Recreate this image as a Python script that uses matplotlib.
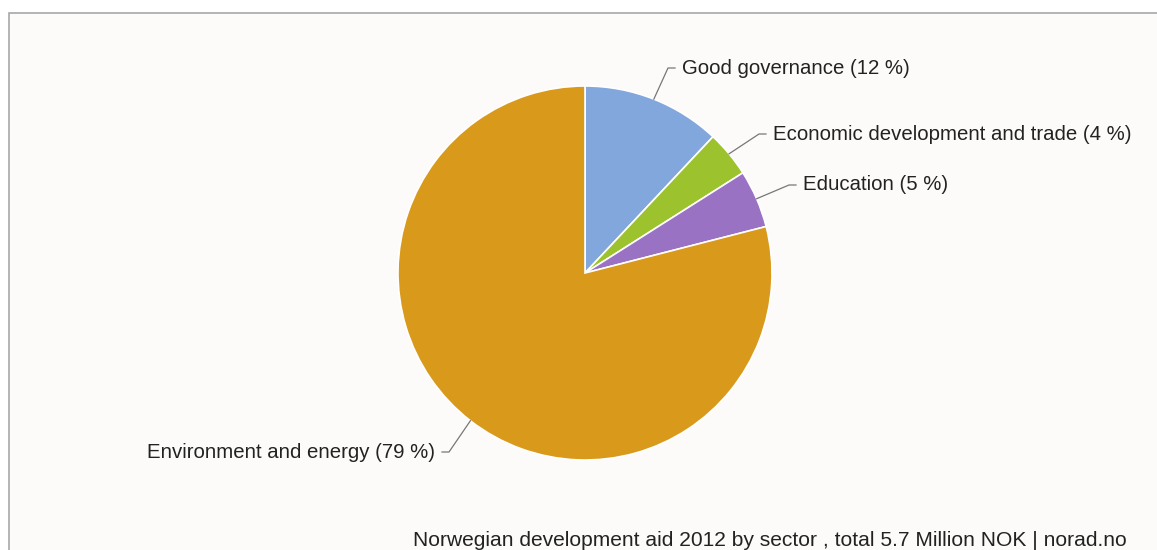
import numpy as np
import matplotlib.pyplot as plt
from matplotlib.patches import Rectangle

sectors = ['Good governance', 'Economic development and trade', 'Education', 'Environment and energy']
shares = [12, 4, 5, 79]
colors = ['#82a7dc', '#9cc22e', '#9a72c4', '#d9991b']
label_pos = [(682, 68), (773, 134), (803, 185), (435, 452)]
caption = 'Norwegian development aid 2012 by sector , total 5.7 Million NOK | norad.no'

W, H = 1157, 550
cx, cy, r = 585, 273, 187

plt.rcParams['font.family'] = ['Liberation Sans', 'DejaVu Sans']
fig = plt.figure(figsize=(W / 100, H / 100), dpi=100)
ax = fig.add_axes([0, 0, 1, 1])

# panel background with thin top/left border
ax.add_patch(Rectangle((9, -5), W, H - 13 + 5, facecolor='#fcfbf9',
                       edgecolor='#a8a8a8', linewidth=1.2, zorder=0))

wedges, _ = ax.pie(shares, colors=colors, startangle=90, counterclock=False,
                   center=(cx, H - cy), radius=r, frame=True,
                   wedgeprops=dict(edgecolor='white', linewidth=1.2))
ax.set_xlim(0, W)
ax.set_ylim(0, H)
ax.set_aspect('equal')
ax.axis('off')

for w, name, pct, (tx, ty) in zip(wedges, sectors, shares, label_pos):
    mid = np.deg2rad((w.theta1 + w.theta2) / 2)
    x0 = cx + r * np.cos(mid)
    y0 = (H - cy) + r * np.sin(mid)
    right = np.cos(mid) > 0
    sign = 1 if right else -1
    ex = tx - sign * 14
    hx = tx - sign * 7
    ax.plot([x0, ex, hx], [y0, H - ty, H - ty], color='#777777', lw=0.9, zorder=3)
    ax.text(tx, H - ty, f'{name} ({pct} %)', fontsize=14.7, color='#222222',
            ha='left' if right else 'right', va='center')

ax.text(1127, H - 541, caption, fontsize=15.1, color='#222222', ha='right', va='center')

fig.savefig('out.png', dpi=100)
